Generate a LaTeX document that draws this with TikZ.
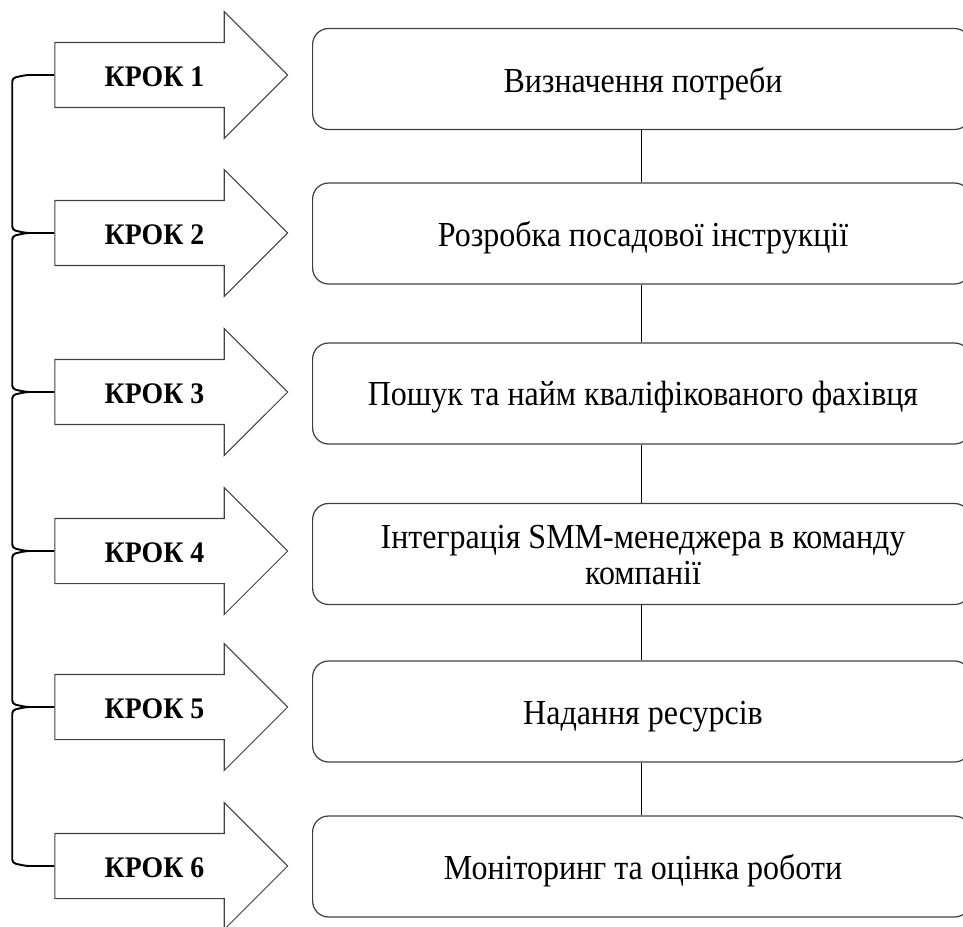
\documentclass[tikz,border=0pt]{standalone}
\usepackage{fontspec}
\setmainfont{Liberation Serif}[FakeStretch=0.91]
\newfontfamily\stepfont{Liberation Serif}[FakeStretch=0.93]
\usetikzlibrary{shapes,arrows,positioning}

\begin{document}
\begin{tikzpicture}[x=0.02cm, y=-0.02cm, auto]
    % Define styles
    \tikzstyle{steparrow} = [single arrow, draw=black!75, line width=0.6pt, minimum height=4.66cm, inner xsep=0pt, inner ysep=0.64cm, single arrow head extend=0.62cm]
    \tikzstyle{steplabel} = [font=\stepfont\fontsize{17}{20}\selectfont\bfseries, inner sep=0pt]
    \tikzstyle{block} = [rectangle, draw=black!75, line width=0.7pt, rounded corners=0.32cm, minimum width=13.16cm, minimum height=2.02cm, anchor=west]
    \tikzstyle{blocktext} = [font=\fontsize{20}{20}\selectfont, align=center, inner sep=0pt]
    \tikzstyle{line} = [draw, line width=0.8pt]
    \tikzstyle{bracket} = [draw, line width=1.1pt, rounded corners=2pt]

    \useasboundingbox (0,0) rectangle (963,926);

    % Place nodes
    \node [steparrow] (a1) at (155,75) {};
    \node [steparrow] (a2) at (155,233) {};
    \node [steparrow] (a3) at (155,392) {};
    \node [steparrow] (a4) at (155,551) {};
    \node [steparrow] (a5) at (155,707) {};
    \node [steparrow] (a6) at (155,866) {};
    \node [steplabel] (k1) at (154.5,77) {КРОК 1};
    \node [steplabel] (k2) at (154.5,235) {КРОК 2};
    \node [steplabel] (k3) at (154.5,394) {КРОК 3};
    \node [steplabel] (k4) at (154.5,553) {КРОК 4};
    \node [steplabel] (k5) at (154.5,709) {КРОК 5};
    \node [steplabel] (k6) at (154.5,868) {КРОК 6};

    \node [block] (b1) at (312,79) {};
    \node [block] (b2) at (312,233.5) {};
    \node [block] (b3) at (312,393.5) {};
    \node [block] (b4) at (312,554) {};
    \node [block] (b5) at (312,711.5) {};
    \node [block] (b6) at (312,866.5) {};
    \node [blocktext, anchor=base] (t1) at (643,92) {Визначення потреби};
    \node [blocktext, anchor=base] (t2) at (643,246.5) {Розробка посадової інструкції};
    \node [blocktext, anchor=base] (t3) at (643,405.5) {Пошук та найм кваліфікованого фахівця};
    \node [blocktext] (t4) at (643,555) {Інтеграція SMM-менеджера в команду\\компанії};
    \node [blocktext, anchor=base] (t5) at (643,724.5) {Надання ресурсів};
    \node [blocktext, anchor=base] (t6) at (643,879.5) {Моніторинг та оцінка роботи};

    % Draw edges
    \path [line] (b1.south) -- (b2.north);
    \path [line] (b2.south) -- (b3.north);
    \path [line] (b3.south) -- (b4.north);
    \path [line] (b4.south) -- (b5.north);
    \path [line] (b5.south) -- (b6.north);

    \path [bracket] (a1.west) -- ++(-28,0) -- ++(-14,3) -- ([shift={(-42,-3)}]a2.west) -- ([shift={(-28,0)}]a2.west) -- (a2.west);
    \path [bracket] (a2.west) -- ++(-28,0) -- ++(-14,3) -- ([shift={(-42,-3)}]a3.west) -- ([shift={(-28,0)}]a3.west) -- (a3.west);
    \path [bracket] (a3.west) -- ++(-28,0) -- ++(-14,3) -- ([shift={(-42,-3)}]a4.west) -- ([shift={(-28,0)}]a4.west) -- (a4.west);
    \path [bracket] (a4.west) -- ++(-28,0) -- ++(-14,3) -- ([shift={(-42,-3)}]a5.west) -- ([shift={(-28,0)}]a5.west) -- (a5.west);
    \path [bracket] (a5.west) -- ++(-28,0) -- ++(-14,3) -- ([shift={(-42,-3)}]a6.west) -- ([shift={(-28,0)}]a6.west) -- (a6.west);
\end{tikzpicture}
\end{document}
